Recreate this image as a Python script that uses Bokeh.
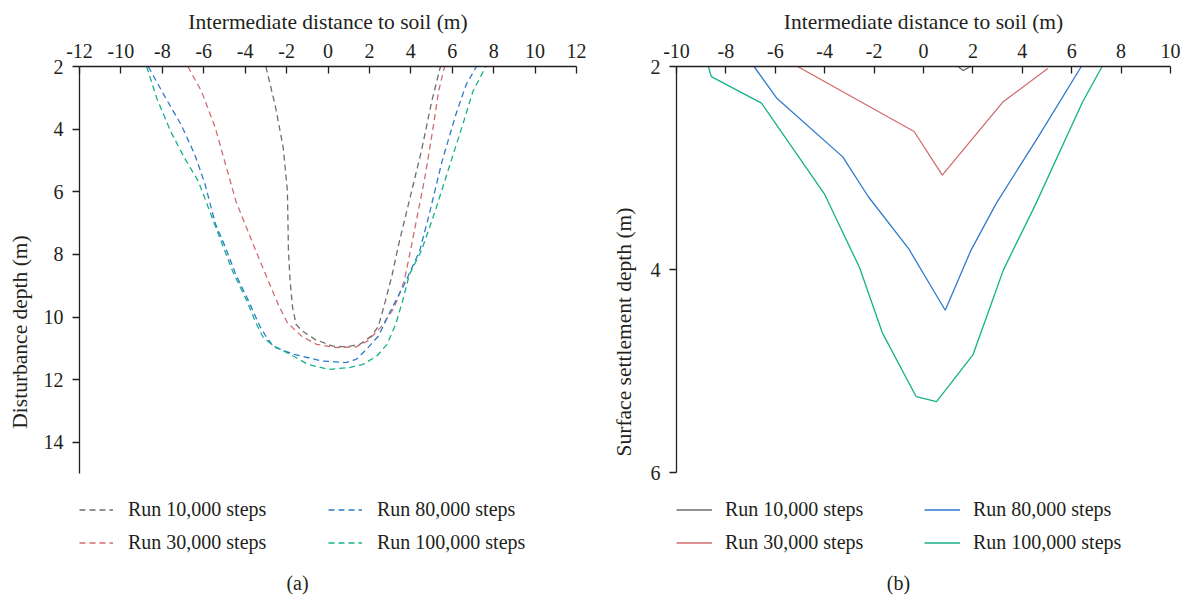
from bokeh.plotting import figure
from bokeh.layouts import row
from bokeh.models import Range1d, FixedTicker, Legend, LegendItem, Label
from bokeh.embed import file_html
from bokeh.resources import INLINE

# ---------------- data ----------------
series_labels = ["Run 10,000 steps", "Run 30,000 steps", "Run 80,000 steps", "Run 100,000 steps"]

# panel (a): disturbance depth
a10_x = [-3.0, -2.54, -2.16, -1.96, -1.91, -1.83, -1.71, -1.54, -1.29, -0.63, 0.2, 0.86, 1.53, 2.11, 2.44, 2.77, 3.1, 3.44, 4.51, 5.01, 5.43]
a10_y = [2.0, 3.27, 4.6, 5.97, 7.88, 8.85, 9.7, 10.23, 10.42, 10.71, 10.92, 10.95, 10.87, 10.6, 10.28, 9.49, 8.64, 7.6, 4.7, 3.11, 2.0]

a30_x = [-6.77, -6.11, -5.44, -4.95, -4.45, -3.6, -2.95, -2.37, -1.96, -1.29, -0.55, 0.37, 1.36, 1.94, 2.61, 3.19, 3.68, 4.02, 4.68, 5.1, 5.34, 5.63]
a30_y = [2.0, 2.79, 3.96, 5.12, 6.29, 7.7, 8.74, 9.65, 10.18, 10.6, 10.87, 10.97, 10.95, 10.75, 10.28, 9.7, 8.85, 7.75, 5.54, 3.85, 2.79, 2.0]

a80_x = [-8.68, -7.93, -7.1, -6.44, -5.94, -5.44, -5.0, -4.45, -3.87, -3.29, -2.95, -2.62, -1.63, -0.3, 0.86, 1.36, 1.86, 2.44, 3.02, 3.69, 4.43, 4.85, 5.51, 6.17, 6.67, 7.17]
a80_y = [2.0, 2.9, 3.85, 4.8, 5.75, 7.02, 7.7, 8.64, 9.44, 10.29, 10.66, 10.95, 11.19, 11.4, 11.45, 11.35, 11.03, 10.6, 9.8, 8.95, 7.88, 6.82, 5.02, 3.54, 2.58, 2.0]

a100_x = [-8.76, -8.27, -7.6, -6.94, -6.27, -5.78, -5.15, -4.61, -3.95, -3.45, -3.12, -2.62, -1.96, -0.96, 0.03, 1.03, 1.69, 2.36, 2.85, 3.27, 3.6, 3.93, 4.51, 5.18, 5.84, 6.51, 7.0, 7.62]
a100_y = [2.0, 3.01, 4.07, 4.91, 5.65, 6.5, 7.6, 8.53, 9.44, 10.23, 10.66, 10.92, 11.14, 11.51, 11.67, 11.61, 11.51, 11.24, 10.87, 10.23, 9.49, 8.64, 7.88, 6.61, 5.23, 3.85, 2.79, 2.0]

# panel (b): surface settlement depth
b10_x = [1.4, 1.6, 1.9]
b10_y = [2.0, 2.04, 2.0]

b30_x = [-5.1, -0.38, 0.76, 3.21, 5.03]
b30_y = [2.0, 2.64, 3.07, 2.35, 2.02]

b80_x = [-6.86, -5.95, -3.27, -2.24, -0.61, 0.88, 1.92, 2.94, 4.65, 6.39]
b80_y = [2.0, 2.31, 2.89, 3.28, 3.79, 4.40, 3.81, 3.35, 2.69, 2.0]

b100_x = [-8.71, -8.59, -6.56, -4.0, -2.59, -1.67, -0.30, 0.53, 2.0, 3.24, 4.55, 6.44, 7.23]
b100_y = [2.0, 2.10, 2.36, 3.26, 3.98, 4.62, 5.25, 5.30, 4.84, 4.0, 3.35, 2.35, 2.0]

a_xticks = [-12, -10, -8, -6, -4, -2, 0, 2, 4, 6, 8, 10, 12]
a_yticks = [2, 4, 6, 8, 10, 12, 14]
a_ybounds = (2, 15)
b_xticks = [-10, -8, -6, -4, -2, 0, 2, 4, 6, 8, 10]
b_yticks = [2, 4, 6]
b_ybounds = (2, 6)

x_title = "Intermediate distance to soil (m)"
a_ytitle = "Disturbance depth (m)"
b_ytitle = "Surface settlement depth (m)"

# ---------------- style ----------------
FONT = "Liberation Serif"
FS = "20px"
FS_TITLE = "21.5px"
TXT = "#231f20"
COLORS = ["#6d6e70", "#d06d6e", "#2f7acd", "#14b08a"]
H = 597
TOP = 65
FRAME_H = H - TOP          # frame runs to the bottom; the axis line is bounded
AXIS_PX = {"a": 408, "b": 407}


def make_fig(width, mbl, mbr, xr, ybounds, axis_px, xticks, yticks, ytitle, ystandoff):
    y0, y1 = ybounds
    y_end = y0 + (y1 - y0) * FRAME_H / axis_px
    p = figure(width=width, height=H, x_range=Range1d(*xr), y_range=Range1d(y_end, y0),
               x_axis_location="above", output_backend="svg", toolbar_location=None,
               min_border_left=mbl, min_border_right=mbr, min_border_top=TOP,
               min_border_bottom=0)
    p.outline_line_color = None
    p.xgrid.visible = False
    p.ygrid.visible = False
    p.title.text = x_title
    p.title.align = "center"
    p.title.text_font = FONT
    p.title.text_font_size = FS_TITLE
    p.title.text_font_style = "normal"
    p.title.text_color = TXT
    p.title.standoff = 14
    for ax in (p.xaxis[0], p.yaxis[0]):
        ax.axis_line_color = TXT
        ax.axis_line_width = 1.3
        ax.major_tick_line_color = TXT
        ax.major_tick_line_width = 1.3
        ax.minor_tick_line_color = None
        ax.major_label_text_font = FONT
        ax.major_label_text_font_size = FS
        ax.major_label_text_color = TXT
    xa = p.xaxis[0]
    xa.ticker = FixedTicker(ticks=xticks)
    xa.major_label_overrides = {t: str(t) for t in xticks}
    xa.major_tick_in = 7
    xa.major_tick_out = 0
    xa.major_label_standoff = 9
    ya = p.yaxis[0]
    ya.bounds = ybounds
    ya.ticker = FixedTicker(ticks=yticks)
    ya.major_label_overrides = {t: str(t) for t in yticks}
    ya.major_tick_in = 0
    ya.major_tick_out = 7
    ya.major_label_standoff = 9
    ya.axis_label = ytitle
    ya.axis_label_text_font = FONT
    ya.axis_label_text_font_size = FS_TITLE
    ya.axis_label_text_font_style = "normal"
    ya.axis_label_text_color = TXT
    ya.axis_label_standoff = ystandoff
    return p


def decorate(p, renderers, glyph_w, standoff, label_w, caption, cap_x):
    items = [LegendItem(label=lab, renderers=[r]) for lab, r in zip(series_labels, renderers)]
    leg = Legend(items=items, orientation="vertical", nrows=2,
                 location=(0, 42.5), padding=0, margin=0,
                 glyph_width=glyph_w, glyph_height=25, label_height=25,
                 label_standoff=standoff, label_width=label_w, spacing=8,
                 label_text_font=FONT, label_text_font_size=FS, label_text_color=TXT,
                 border_line_color=None, background_fill_alpha=0)
    p.add_layout(leg, "center")
    p.add_layout(Label(x=cap_x, y=15, x_units="screen", y_units="screen",
                       text=caption, text_align="center", text_baseline="middle",
                       text_font=FONT, text_font_size=FS, text_color=TXT))


# ---------------- panel (a) ----------------
pa = make_fig(600, 79, 24, (-12, 12), a_ybounds, AXIS_PX["a"], a_xticks, a_yticks, a_ytitle, 9)
ra = []
for (xs, ys), c in zip([(a10_x, a10_y), (a30_x, a30_y), (a80_x, a80_y), (a100_x, a100_y)], COLORS):
    ra.append(pa.line(xs, ys, line_color=c, line_width=1.3, line_dash="6 4"))
decorate(pa, ra, 34, 15, 192, "(a)", 218)

# ---------------- panel (b) ----------------
pb = make_fig(591, 76, 21, (-10, 10), b_ybounds, AXIS_PX["b"], b_xticks, b_yticks, b_ytitle, 12)
rb = []
for (xs, ys), c in zip([(b10_x, b10_y), (b30_x, b30_y), (b80_x, b80_y), (b100_x, b100_y)], COLORS):
    rb.append(pb.line(xs, ys, line_color=c, line_width=1.3))
decorate(pb, rb, 36, 13, 191, "(b)", 222)

layout = row(pa, pb)
open("out.html", "w").write(file_html(layout, INLINE))
